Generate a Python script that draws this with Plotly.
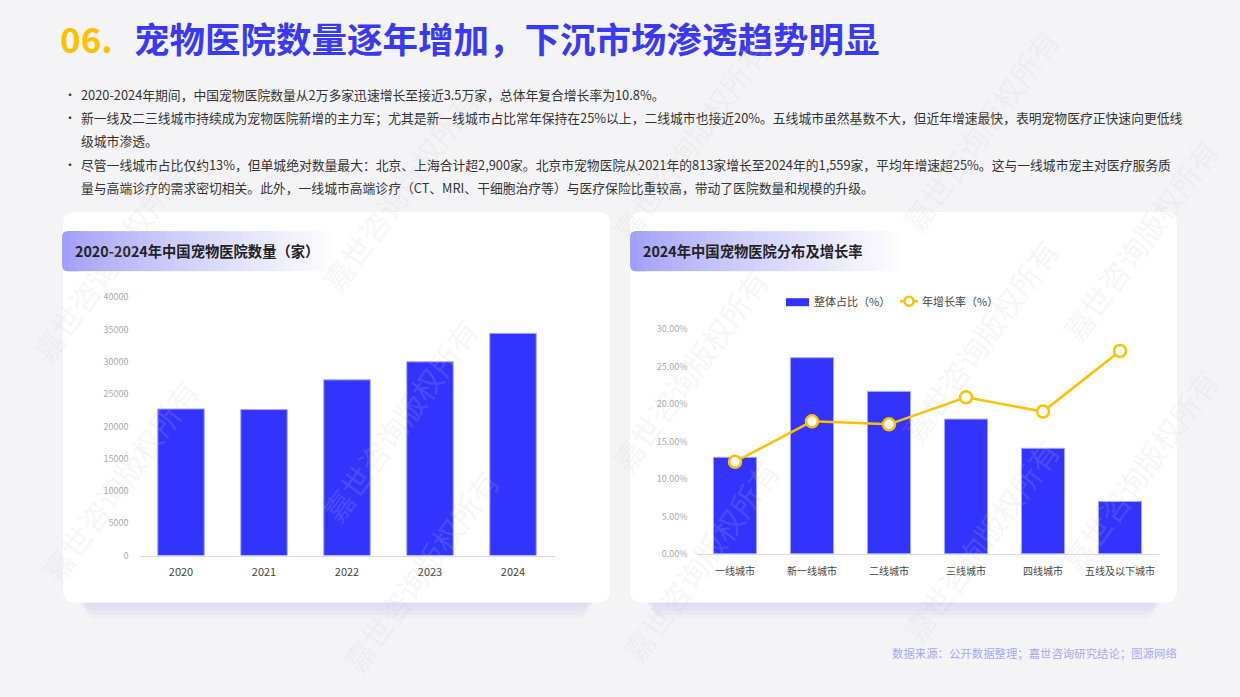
import plotly.graph_objects as go

# ---------------- data ----------------
years = ["2020", "2021", "2022", "2023", "2024"]
hospital_counts = [22700, 22600, 27200, 30000, 34400]

city_tiers = ["一线城市", "新一线城市", "二线城市", "三线城市", "四线城市", "五线及以下城市"]
share_pct = [0.129, 0.262, 0.217, 0.180, 0.141, 0.070]
growth_pct = [0.123, 0.177, 0.173, 0.209, 0.190, 0.271]

left_yticks = [0, 5000, 10000, 15000, 20000, 25000, 30000, 35000, 40000]
right_yticks = [0, 0.05, 0.10, 0.15, 0.20, 0.25, 0.30]

title_num = "06."
title_text = "宠物医院数量逐年增加，下沉市场渗透趋势明显"
bullet_lines = [
    ("•", "2020-2024年期间，中国宠物医院数量从2万多家迅速增长至接近3.5万家，总体年复合增长率为10.8%。"),
    ("•", "新一线及二三线城市持续成为宠物医院新增的主力军；尤其是新一线城市占比常年保持在25%以上，二线城市也接近20%。五线城市虽然基数不大，但近年增速最快，表明宠物医疗正快速向更低线"),
    ("", "级城市渗透。"),
    ("•", "尽管一线城市占比仅约13%，但单城绝对数量最大：北京、上海合计超2,900家。北京市宠物医院从2021年的813家增长至2024年的1,559家，平均年增速超25%。这与一线城市宠主对医疗服务质"),
    ("", "量与高端诊疗的需求密切相关。此外，一线城市高端诊疗（CT、MRI、干细胞治疗等）与医疗保险比重较高，带动了医院数量和规模的升级。"),
]
left_title = "2020-2024年中国宠物医院数量（家）"
right_title = "2024年中国宠物医院分布及增长率"
legend_names = ["整体占比（%）", "年增长率（%）"]
source_text = "数据来源：公开数据整理；嘉世咨询研究结论；图源网络"
watermark = "嘉世咨询版权所有"

# ---------------- helpers ----------------
W, H = 1240, 697
FONT = "Noto Sans CJK SC"
BLUE = "#3333ff"
GOLD = "#ffc000"


def px(x):
    return x / W


def py(y):
    # small vertical correction observed in rendering
    yc = (y - 7.2) / 0.98
    return 1 - yc / H


def rrect(x0, y0, x1, y1, r):
    pts = [
        f"M {px(x0 + r)} {py(y0)}",
        f"L {px(x1 - r)} {py(y0)}",
        f"Q {px(x1)} {py(y0)} {px(x1)} {py(y0 + r)}",
        f"L {px(x1)} {py(y1 - r)}",
        f"Q {px(x1)} {py(y1)} {px(x1 - r)} {py(y1)}",
        f"L {px(x0 + r)} {py(y1)}",
        f"Q {px(x0)} {py(y1)} {px(x0)} {py(y1 - r)}",
        f"L {px(x0)} {py(y0 + r)}",
        f"Q {px(x0)} {py(y0)} {px(x0 + r)} {py(y0)}",
        "Z",
    ]
    return " ".join(pts)


shapes = []
annotations = []

# card shadows + cards
for (cx0, cx1) in [(63, 610), (630, 1177)]:
    for i in range(4):
        shapes.append(dict(type="path", xref="paper", yref="paper",
                           path=rrect(cx0 + 15 + i * 3, 225 + i * 3, cx1 - 15 - i * 3, 606 + i * 4, 10),
                           fillcolor="rgba(190,188,235,0.10)", line=dict(width=0), layer="below"))
    shapes.append(dict(type="path", xref="paper", yref="paper",
                       path=rrect(cx0, 212, cx1, 602, 12),
                       fillcolor="white", line=dict(width=0), layer="below"))


def gradient(x0, x1, y0, y1):
    n = 40
    c0 = (160, 158, 249)
    c1 = (255, 255, 255)
    w = (x1 - x0) / n
    for i in range(n):
        t = i / (n - 1)
        col = tuple(int(c0[k] + (c1[k] - c0[k]) * (t ** 0.8)) for k in range(3))
        xa = x0 + i * w
        xb = xa + w + 0.8
        if i == 0:
            shapes.append(dict(type="path", xref="paper", yref="paper",
                               path=rrect(x0, y0, x0 + 3 * w, y1, 6),
                               fillcolor=f"rgb{col}", line=dict(width=0), layer="below"))
        else:
            shapes.append(dict(type="rect", xref="paper", yref="paper",
                               x0=px(xa), x1=px(xb), y0=py(y1), y1=py(y0),
                               fillcolor=f"rgb{col}", line=dict(width=0), layer="below"))


gradient(62, 340, 231, 271)
gradient(630, 905, 231, 271)


def text(t, x, y, size, color, anchor="left", bold=False, angle=0):
    annotations.append(dict(text=f"<b>{t}</b>" if bold else t, x=px(x), y=py(y),
                            xref="paper", yref="paper", xanchor=anchor, yanchor="middle",
                            showarrow=False, textangle=angle,
                            font=dict(family=FONT, size=size, color=color)))


# title
text(title_num, 58, 38, 35, GOLD, bold=True)
text(title_text, 132, 38, 35.5, "#3a3af5", bold=True)

# bullets
line_y = [95, 118, 141, 164, 187]
for (b, t), yy in zip(bullet_lines, line_y):
    if b:
        text(b, 62, yy, 12, "#333")
    text(t, 79, yy, 12.8, "#333")

# card titles
text(left_title, 73, 250, 14.3, "#222", bold=True)
text(right_title, 641, 250, 14.3, "#222", bold=True)

# manual legend for right chart
shapes.append(dict(type="rect", xref="paper", yref="paper", x0=px(786), x1=px(809),
                   y0=py(306), y1=py(298), fillcolor=BLUE, line=dict(width=0)))
text(legend_names[0], 812, 301, 11, "#444")
shapes.append(dict(type="line", xref="paper", yref="paper", x0=px(900), x1=px(918),
                   y0=py(301), y1=py(301), line=dict(color=GOLD, width=2.5)))
shapes.append(dict(type="circle", xref="paper", yref="paper", x0=px(904.5), x1=px(913.5),
                   y0=py(305.5), y1=py(296.5), fillcolor="white", line=dict(color=GOLD, width=2.5)))
text(legend_names[1], 920, 301, 11, "#444")

# source
text(source_text, 1179, 652, 11.4, "#a8a7f0", anchor="right")

# watermarks (kept fully inside the page)
wm_pos = [(110, 260), (400, 190), (690, 140), (980, 130),
          (120, 480), (400, 420), (690, 370), (980, 340), (1140, 240),
          (420, 570), (700, 560), (980, 540), (1140, 470)]
for (wx, wy) in wm_pos:
    text(watermark, wx, wy, 30, "rgba(200,200,205,0.18)", anchor="center", angle=-54)

# ---------------- traces ----------------
fig = go.Figure()
fig.add_trace(go.Bar(x=years, y=hospital_counts, marker=dict(color=BLUE, line=dict(color="#a7a7ff", width=1)),
                     width=0.56, showlegend=False, xaxis="x", yaxis="y"))
fig.add_trace(go.Bar(x=city_tiers, y=share_pct, name=legend_names[0], showlegend=False,
                     marker=dict(color=BLUE, line=dict(color="#a7a7ff", width=1)),
                     width=0.56, xaxis="x2", yaxis="y2"))
fig.add_trace(go.Scatter(x=city_tiers, y=growth_pct, name=legend_names[1], mode="lines+markers",
                         showlegend=False,
                         line=dict(color=GOLD, width=2.5),
                         marker=dict(size=12, color="white", line=dict(color=GOLD, width=2.5)),
                         xaxis="x2", yaxis="y2"))

fig.update_layout(
    width=W, height=H,
    margin=dict(l=0, r=0, t=0, b=0),
    paper_bgcolor="#f4f4f6",
    plot_bgcolor="rgba(0,0,0,0)",
    font=dict(family=FONT),
    shapes=shapes,
    annotations=annotations,
    showlegend=False,
    xaxis=dict(domain=[px(139.5), px(554.5)], anchor="y", showgrid=False, showline=True,
               linecolor="#dddddd", linewidth=1, ticks="", tickfont=dict(size=11, color="#444"),
               ticklabelstandoff=6),
    yaxis=dict(domain=[py(555), py(297)], range=[0, 40000], tickvals=left_yticks,
               ticktext=[str(v) for v in left_yticks], showgrid=False, zeroline=False,
               showline=False, tickfont=dict(size=9, color="#aaaaaa"), ticklabelstandoff=10,
               anchor="x"),
    xaxis2=dict(domain=[px(696.5), px(1158.5)], anchor="y2", showgrid=False, showline=True,
                linecolor="#dddddd", linewidth=1, ticks="", tickfont=dict(size=10, color="#444"),
                ticklabelstandoff=8),
    yaxis2=dict(domain=[py(553.3), py(329)], range=[0, 0.30], tickvals=right_yticks,
                tickformat=".2%", showgrid=False, zeroline=False, showline=False,
                tickfont=dict(size=9, color="#aaaaaa"), ticklabelstandoff=8, anchor="x2"),
)

post = (
    "document.documentElement.style.overflow='hidden';"
    "document.body.style.margin='0';"
    "document.body.style.overflow='hidden';"
    "var gd=document.getElementById('{plot_id}');"
    "if(gd&&gd.parentElement){gd.parentElement.style.height='697px';"
    "gd.parentElement.style.overflow='hidden';gd.parentElement.style.lineHeight='0';}"
)
fig.write_html("out.html", config={"displayModeBar": False}, post_script=post)
